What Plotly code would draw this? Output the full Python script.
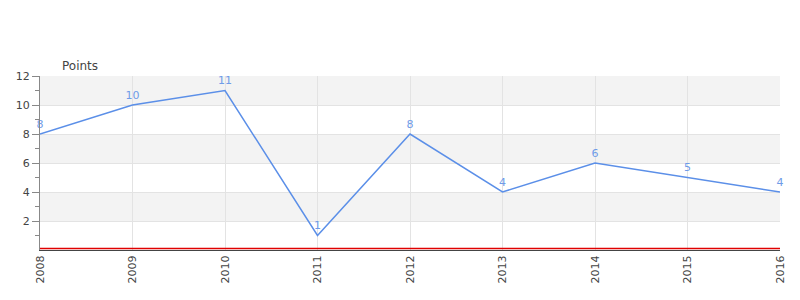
import plotly.graph_objects as go

years = [2008, 2009, 2010, 2011, 2012, 2013, 2014, 2015, 2016]
points = [8, 10, 11, 1, 8, 4, 6, 5, 4]
y_ticks = [2, 4, 6, 8, 10, 12]
bands = [(2, 4), (6, 8), (10, 12)]

line_color = "#5b8fe8"

fig = go.Figure()
fig.add_trace(go.Scatter(
    x=years, y=points, mode="lines+markers+text",
    text=[str(v) for v in points], textposition="top center",
    textfont=dict(color="#6f9be8", size=11, family="DejaVu Sans"),
    line=dict(color=line_color, width=1.5),
    marker=dict(size=4, color="rgba(0,0,0,0)"),
    cliponaxis=False, hoverinfo="x+y", showlegend=False,
))

shapes = []
for lo, hi in bands:
    shapes.append(dict(type="rect", xref="paper", yref="y", x0=0, x1=1, y0=lo, y1=hi,
                       fillcolor="#f3f3f3", line=dict(width=0), layer="below"))
shapes.append(dict(type="line", xref="paper", yref="y", x0=0, x1=1,
                   ysizemode="pixel", yanchor=0, y0=1.5, y1=1.5,
                   line=dict(color="#e00000", width=1.5), layer="above"))

fig.update_layout(
    width=800, height=300,
    margin=dict(l=40, r=20, t=76, b=50),
    plot_bgcolor="white", paper_bgcolor="white",
    shapes=shapes,
    font=dict(family="DejaVu Sans", color="#444", size=11),
    annotations=[dict(text="Points", xref="paper", yref="paper", x=0.027, y=1.0,
                      xanchor="left", yanchor="bottom", yshift=1, showarrow=False,
                      font=dict(size=12, color="#444"))],
    xaxis=dict(
        range=[2008, 2016], tickvals=years, ticktext=[str(y) for y in years],
        tickangle=-90, showgrid=True, gridcolor="#e3e3e3", gridwidth=1,
        zeroline=False, showline=True, linecolor="#444", linewidth=1,
        ticks="", tickfont=dict(size=11, color="#444"),
    ),
    yaxis=dict(
        range=[0, 12], tickvals=y_ticks, showgrid=True, gridcolor="#e3e3e3",
        zeroline=False, showline=True, linecolor="#888", linewidth=1,
        ticks="outside", ticklen=7, tickcolor="#888",
        minor=dict(tickvals=[1, 3, 5, 7, 9, 11], ticks="outside", ticklen=4, tickcolor="#888", showgrid=False),
        tickfont=dict(size=11, color="#444"),
    ),
)

fig.write_html("out.html")
